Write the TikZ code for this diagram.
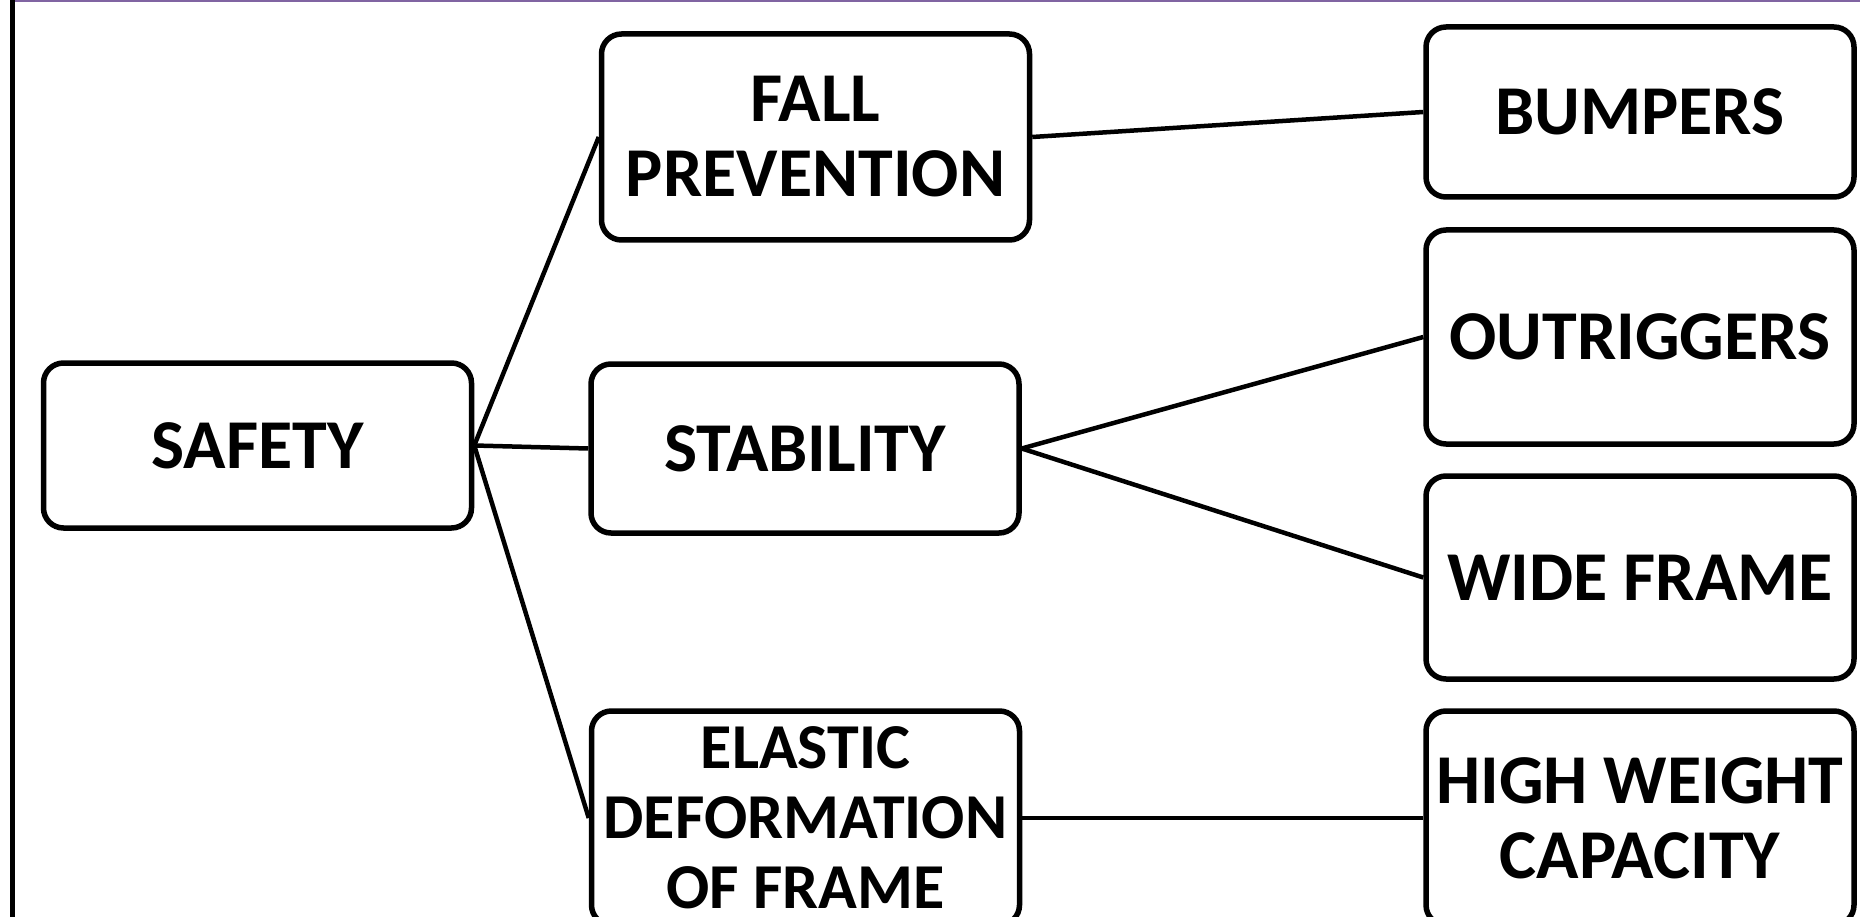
\documentclass[tikz,border=0pt]{standalone}
\usepackage{fontspec}
\setmainfont{Carlito}
\definecolor{toppurple}{HTML}{8064A2}
\begin{document}
\begin{tikzpicture}[x=1pt,y=-1pt,
  box/.style={draw=black, line width=5.5pt, rounded corners=20pt, fill=white,
    align=center, inner sep=0pt, minimum width=428pt,
    font=\fontsize{70}{75}\selectfont\bfseries},
  link/.style={draw=black, line width=4.5pt}]
\clip (0,0) rectangle (1860,917);
\fill[white] (0,0) rectangle (1860,917);
\draw[toppurple, line width=3pt] (15,1) -- (1860,1);
\draw[black, line width=5pt] (12,0) -- (12,917);

\node[box, minimum height=165pt] (safety) at (257.5,445.5) {SAFETY};
\node[box, minimum height=206pt] (fall) at (815.5,137) {FALL\\PREVENTION};
\node[box, minimum height=169pt] (stab) at (805,448.5) {STABILITY};
\node[box, minimum height=214pt, font=\fontsize{64}{70}\selectfont\bfseries] (elastic) at (805.5,818) {ELASTIC\\DEFORMATION\\OF FRAME};
\node[box, minimum height=170pt] (bump) at (1640,112) {BUMPERS};
\node[box, minimum height=214pt] (outr) at (1640,337) {OUTRIGGERS};
\node[box, minimum height=203pt] (wide) at (1640,577.5) {WIDE FRAME};
\node[box, minimum height=214pt] (high) at (1640,818) {HIGH WEIGHT\\CAPACITY};

\draw[link] (safety.east) -- (fall.west);
\draw[link] (safety.east) -- (stab.west);
\draw[link] (safety.east) -- (elastic.west);
\draw[link] (fall.east) -- (bump.west);
\draw[link] (stab.east) -- (outr.west);
\draw[link] (stab.east) -- (wide.west);
\draw[link] (elastic.east) -- (high.west);
\end{tikzpicture}
\end{document}
